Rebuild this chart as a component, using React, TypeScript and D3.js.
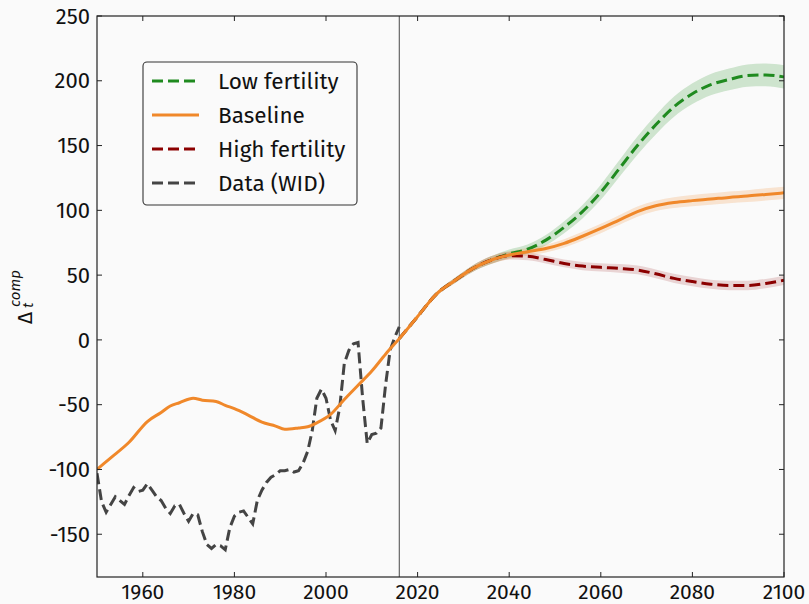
import React from "react";
import * as d3 from "d3";

// ---------- data ----------
const xTicks = [1960, 1980, 2000, 2020, 2040, 2060, 2080, 2100];
const yTicks = [-150, -100, -50, 0, 50, 100, 150, 200, 250];

const dataYears = [
  1950, 1951, 1952, 1953, 1954, 1955, 1956, 1957, 1958, 1959, 1960, 1961, 1962, 1963, 1964, 1965, 1966, 1967,
  1968, 1969, 1970, 1971, 1972, 1973, 1974, 1975, 1976, 1977, 1978, 1979, 1980, 1981, 1982, 1983, 1984, 1985,
  1986, 1987, 1988, 1989, 1990, 1991, 1992, 1993, 1994, 1995, 1996, 1997, 1998, 1999, 2000, 2001, 2002, 2003,
  2004, 2005, 2006, 2007, 2008, 2009, 2010, 2011, 2012, 2013, 2014, 2015, 2016,
];
const dataWID = [
  -103, -125, -133, -127, -121, -124, -127, -120, -114, -117, -116, -111, -116, -121, -124, -130, -134, -128,
  -127, -134, -140, -134, -135, -148, -158, -161, -158, -159, -162, -145, -136, -133, -132, -137, -142, -124,
  -116, -110, -106, -104, -101, -101, -100, -102, -101, -95, -86, -70, -45, -38, -45, -62, -70, -52,
  -18, -8, -3, -2, -45, -80, -73, -72, -68, -35, -8, 2, 10,
];

const histYears = [1950, 1953, 1957, 1961, 1964, 1966, 1968, 1971, 1973, 1976, 1978, 1980, 1983, 1986, 1989, 1991, 1994, 1996, 1998, 2001, 2004, 2007, 2010, 2013];
const histBaseline = [-100, -91, -79, -63, -56, -51, -48.5, -45, -46.5, -47.5, -50.5, -53, -58, -63.5, -66.5, -69, -68, -67, -64, -57.5, -46, -35, -24, -11];

const projYears = [2016, 2020, 2024, 2028, 2032, 2036, 2040, 2044, 2048, 2052, 2056, 2060, 2064, 2068, 2072, 2076, 2080, 2084, 2088, 2092, 2096, 2100];
const baseline = [1, 18, 35, 45.5, 55, 61.5, 65.5, 68, 70.5, 74.5, 80, 86, 92.5, 99, 103.5, 106, 107.5, 108.7, 110, 111, 112.3, 113.5];
const lowFert = [1, 18, 35, 45.5, 55, 61.5, 66.5, 70, 77, 87, 99, 114, 132, 150, 166, 180, 190, 197, 201, 204, 204.5, 203];
const highFert = [1, 18, 35, 45.5, 55, 61.5, 65, 64.5, 62, 59, 57, 56, 55.2, 54, 51, 47.5, 45, 43, 42, 42, 43.5, 46];
const baselineBand = [0.3, 1, 1.5, 2, 2.5, 3, 3, 3, 3, 3.2, 3.4, 3.6, 3.8, 4, 4, 4.2, 4.3, 4.4, 4.5, 4.6, 4.7, 4.8];
const lowBand = [0.3, 1, 1.5, 2, 2.5, 3, 3.2, 3.6, 4, 4.6, 5.2, 5.8, 6.4, 7, 7.4, 7.8, 8, 8.2, 8.4, 8.6, 8.8, 9];
const highBand = [0.3, 1, 1.5, 2, 2.5, 3, 3, 3, 3, 3, 3.2, 3.2, 3.3, 3.4, 3.4, 3.5, 3.5, 3.5, 3.6, 3.6, 3.6, 3.6];

const legendLabels = ["Low fertility", "Baseline", "High fertility", "Data (WID)"];

// ---------- layout ----------
const W = 809, H = 604;
const L = 97, R = 784, T = 16, B = 577;
const FONT = "'Fira Sans', 'Open Sans', 'Noto Sans', sans-serif";
const GREEN = "#1f8a1f", ORANGE = "#f0882a", RED = "#8b0000", GRAY = "#444444";

export default function App() {
  const x = d3.scaleLinear().domain([1950, 2100]).range([L, R]);
  const y = d3.scaleLinear().domain([-183, 250]).range([B, T]);

  type P = [number, number];
  const line = d3.line<P>().x((d) => x(d[0])).y((d) => y(d[1]));
  const smooth = d3.line<P>().x((d) => x(d[0])).y((d) => y(d[1])).curve(d3.curveMonotoneX);
  const area = d3
    .area<[number, number, number]>()
    .x((d) => x(d[0]))
    .y0((d) => y(d[1] - d[2]))
    .y1((d) => y(d[1] + d[2]))
    .curve(d3.curveMonotoneX);

  const zip = (ys: number[], vs: number[]) => ys.map((yr, i) => [yr, vs[i]] as P);
  const zip3 = (vs: number[], hw: number[]) => projYears.map((yr, i) => [yr, vs[i], hw[i]] as [number, number, number]);

  const basePts = [...zip(histYears, histBaseline), ...zip(projYears, baseline)];

  const dash = "11 5";

  return (
    <svg width={W} height={H} style={{ position: "absolute", left: 0, top: 0 }} fontFamily={FONT}>
      <rect x={0} y={0} width={W} height={H} fill="#fafafa" />
      <defs>
        <clipPath id="plot">
          <rect x={L} y={T} width={R - L} height={B - T} />
        </clipPath>
      </defs>
      <g clipPath="url(#plot)">
        <path d={area(zip3(lowFert, lowBand)) || ""} fill={GREEN} fillOpacity={0.2} />
        <path d={area(zip3(highFert, highBand)) || ""} fill={RED} fillOpacity={0.15} />
        <path d={area(zip3(baseline, baselineBand)) || ""} fill={ORANGE} fillOpacity={0.2} />
        <line x1={x(2016)} x2={x(2016)} y1={T} y2={B} stroke="#333" strokeWidth={0.9} />
        <path d={line(zip(dataYears, dataWID)) || ""} fill="none" stroke={GRAY} strokeWidth={3} strokeDasharray={dash} />
        <path d={smooth(zip(projYears, lowFert)) || ""} fill="none" stroke={GREEN} strokeWidth={3} strokeDasharray={dash} />
        <path d={smooth(zip(projYears, highFert)) || ""} fill="none" stroke={RED} strokeWidth={3} strokeDasharray={dash} />
        <path d={smooth(basePts) || ""} fill="none" stroke={ORANGE} strokeWidth={3} />
      </g>

      {/* frame */}
      <rect x={L} y={T} width={R - L} height={B - T} fill="none" stroke="#222" strokeWidth={1.2} />
      {xTicks.map((t) => (
        <g key={"x" + t}>
          <line x1={x(t)} x2={x(t)} y1={B} y2={B - 5} stroke="#222" strokeWidth={1} />
          <line x1={x(t)} x2={x(t)} y1={T} y2={T + 5} stroke="#222" strokeWidth={1} />
          <text x={x(t)} y={B + 22} textAnchor="middle" fontSize={21} fill="#111">
            {t}
          </text>
        </g>
      ))}
      {yTicks.map((t) => (
        <g key={"y" + t}>
          <line x1={L} x2={L + 5} y1={y(t)} y2={y(t)} stroke="#222" strokeWidth={1} />
          <line x1={R} x2={R - 5} y1={y(t)} y2={y(t)} stroke="#222" strokeWidth={1} />
          <text x={L - 7} y={y(t)} dy="0.35em" textAnchor="end" fontSize={22} fill="#111">
            {t}
          </text>
        </g>
      ))}

      {/* y label */}
      <g transform="translate(32,324) rotate(-90)" fill="#111">
        <text x={0} y={0} fontSize={21}>Δ</text>
        <text x={16} y={1} fontSize={15} fontStyle="italic">t</text>
        <text x={17} y={-12} fontSize={15} fontStyle="italic">comp</text>
      </g>

      {/* legend */}
      <g>
        <rect x={143} y={62} width={214} height={143} rx={4} fill="#fafafa" stroke="#333" strokeWidth={1.1} />
        {legendLabels.map((lab, i) => {
          const cy = 81 + i * 34;
          const col = [GREEN, ORANGE, RED, GRAY][i];
          return (
            <g key={lab}>
              <line x1={152} x2={199} y1={cy} y2={cy} stroke={col} strokeWidth={3} strokeDasharray={i === 1 ? undefined : dash} />
              <text x={218} y={cy} dy="0.35em" fontSize={22.5} fill="#111">
                {lab}
              </text>
            </g>
          );
        })}
      </g>
    </svg>
  );
}
